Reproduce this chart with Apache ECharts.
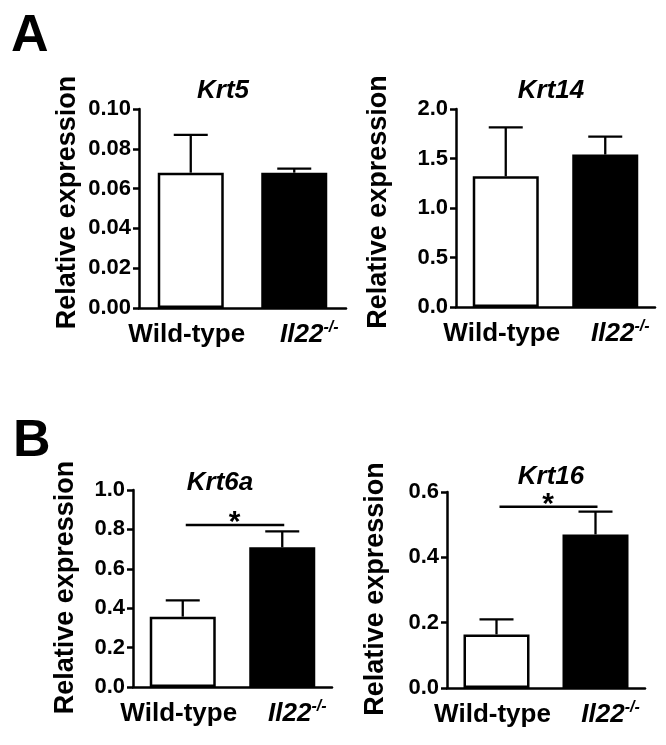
<!DOCTYPE html>
<html>
<head>
<meta charset="utf-8">
<script src="https://cdn.jsdelivr.net/npm/echarts@6/dist/echarts.min.js"></script>
<style>
  html, body { margin: 0; padding: 0; background: #fff; }
  #chart { width: 666px; height: 745px; }
</style>
</head>
<body>
<div id="chart"></div>
<script>
// ---- data ----
const groups = ['Wild-type', 'Il22-/-'];
const genes = ['Krt5', 'Krt14', 'Krt6a', 'Krt16'];
const panelLetters = ['A', 'B'];

const krt5Mean = [0.068, 0.068];
const krt5Sem = [0.019, 0.002];
const krt14Mean = [1.32, 1.54];
const krt14Sem = [0.495, 0.18];
const krt6aMean = [0.357, 0.709];
const krt6aSem = [0.083, 0.081];
const krt16Mean = [0.164, 0.470];
const krt16Sem = [0.046, 0.070];

const krt5Ticks = { min: 0, max: 0.10, interval: 0.02, decimals: 2 };
const krt14Ticks = { min: 0, max: 2.0, interval: 0.5, decimals: 1 };
const krt6aTicks = { min: 0, max: 1.0, interval: 0.2, decimals: 1 };
const krt16Ticks = { min: 0, max: 0.6, interval: 0.2, decimals: 1 };

const krt6aSig = 0.822;
const krt16Sig = 0.555;
const sigMark = '*';

// ---- layout ----
const FONT = '"Liberation Sans", Arial, Helvetica, sans-serif';
const INK = '#000';
const panels = [
  { gene: genes[0], mean: krt5Mean, sem: krt5Sem, ticks: krt5Ticks, sig: null,
    grid: { left: 139, top: 109, width: 207, height: 199 }, titleX: 218, titleY: 73, nameGap: 58, namePad: [0, 0, 0, 12] },
  { gene: genes[1], mean: krt14Mean, sem: krt14Sem, ticks: krt14Ticks, sig: null,
    grid: { left: 456, top: 109, width: 199, height: 198 }, titleX: 546, titleY: 73, nameGap: 64, namePad: [0, 0, 0, 12] },
  { gene: genes[2], mean: krt6aMean, sem: krt6aSem, ticks: krt6aTicks, sig: krt6aSig,
    grid: { left: 133, top: 490, width: 199, height: 197 }, titleX: 215, titleY: 465, nameGap: 54, namePad: [0, 0, 0, 2] },
  { gene: genes[3], mean: krt16Mean, sem: krt16Sem, ticks: krt16Ticks, sig: krt16Sig,
    grid: { left: 447, top: 492, width: 198, height: 196 }, titleX: 546, titleY: 459, nameGap: 58, namePad: [0, 0, 0, 2] }
];

function errRender(params, api) {
  const x = api.value(0), m = api.value(1), e = api.value(2);
  const p0 = api.coord([x, m]);
  const p1 = api.coord([x, m + e]);
  const st = { stroke: INK, lineWidth: 2.3 };
  return { type: 'group', children: [
    { type: 'line', shape: { x1: p0[0], y1: p0[1], x2: p1[0], y2: p1[1] }, style: st },
    { type: 'line', shape: { x1: p1[0] - 17, y1: p1[1], x2: p1[0] + 17, y2: p1[1] }, style: st }
  ]};
}

function sigRender(params, api) {
  const a = api.coord([api.value(0), api.value(2)]);
  const b = api.coord([api.value(1), api.value(2)]);
  return { type: 'group', children: [
    { type: 'line', shape: { x1: a[0] + 3, y1: a[1], x2: b[0] + 2, y2: b[1] }, style: { stroke: INK, lineWidth: 2.6 } },
    { type: 'text', x: (a[0] + b[0]) / 2 + 2, y: a[1] - 2,
      style: { text: sigMark, font: 'bold 30px ' + FONT, fill: INK, align: 'center', verticalAlign: 'middle' } }
  ]};
}

const option = {
  backgroundColor: '#fff',
  animation: false,
  title: [
    { text: panelLetters[0], left: 6, top: 6, textStyle: { fontFamily: FONT, fontWeight: 'bold', fontSize: 52, color: INK } },
    { text: panelLetters[1], left: 8, top: 411, textStyle: { fontFamily: FONT, fontWeight: 'bold', fontSize: 52, color: INK } }
  ].concat(panels.map(p => ({
    text: p.gene, left: p.titleX, top: p.titleY, textAlign: 'center',
    textStyle: { fontFamily: FONT, fontWeight: 'bold', fontStyle: 'italic', fontSize: 26, color: INK }
  }))),
  grid: panels.map(p => Object.assign({ containLabel: false }, p.grid)),
  xAxis: panels.map((p, i) => ({
    type: 'category', gridIndex: i, data: groups,
    axisLine: { lineStyle: { color: INK, width: 2.5 } },
    axisTick: { alignWithLabel: true, length: 7, lineStyle: { color: INK, width: 2.5 } },
    axisLabel: {
      margin: 12, color: INK, interval: 0,
      formatter: function (v) {
        if (v === groups[0]) return '{w|' + v + '}';
        const parts = v.split('-');
        return '{i|' + parts[0] + '}{s|-' + parts.slice(1).join('-') + '}';
      },
      rich: {
        w: { fontFamily: FONT, fontWeight: 'bold', fontSize: 26, color: INK, padding: [0, 8, 0, 0], lineHeight: 30 },
        i: { fontFamily: FONT, fontWeight: 'bold', fontStyle: 'italic', fontSize: 26, color: INK, padding: [0, 0, 0, 30], lineHeight: 30 },
        s: { fontFamily: FONT, fontWeight: 'bold', fontStyle: 'italic', fontSize: 16, color: INK, verticalAlign: 'top', lineHeight: 16 }
      }
    }
  })),
  yAxis: panels.map((p, i) => ({
    type: 'value', gridIndex: i, min: p.ticks.min, max: p.ticks.max, interval: p.ticks.interval,
    name: 'Relative expression', nameLocation: 'middle', nameGap: p.nameGap,
    nameTextStyle: { fontFamily: FONT, fontWeight: 'bold', fontSize: 27, color: INK, padding: p.namePad },
    splitLine: { show: false },
    axisLine: { show: true, lineStyle: { color: INK, width: 2.5 } },
    axisTick: { show: true, length: 6, lineStyle: { color: INK, width: 2.5 } },
    axisLabel: {
      margin: 8, color: INK, fontFamily: FONT, fontWeight: 'bold', fontSize: 22,
      formatter: (v) => v.toFixed(p.ticks.decimals)
    }
  })),
  series: []
};

panels.forEach((p, i) => {
  option.series.push({
    type: 'bar', xAxisIndex: i, yAxisIndex: i, barWidth: 66, z: 3,
    data: p.mean.map((v, k) => ({
      value: v,
      itemStyle: { color: k === 0 ? '#fff' : INK, borderColor: INK, borderWidth: 2.5 }
    }))
  });
  option.series.push({
    type: 'custom', xAxisIndex: i, yAxisIndex: i, z: 2,
    renderItem: errRender,
    encode: { x: 0, y: 1 },
    data: p.mean.map((v, k) => [k, v, p.sem[k]])
  });
  if (p.sig !== null) {
    option.series.push({
      type: 'custom', xAxisIndex: i, yAxisIndex: i, z: 4,
      renderItem: sigRender,
      encode: { x: [0, 1], y: 2 },
      data: [[0, 1, p.sig]]
    });
  }
});

const chart = echarts.init(document.getElementById('chart'), null, { renderer: 'canvas' });
chart.setOption(option);
</script>
</body>
</html>
